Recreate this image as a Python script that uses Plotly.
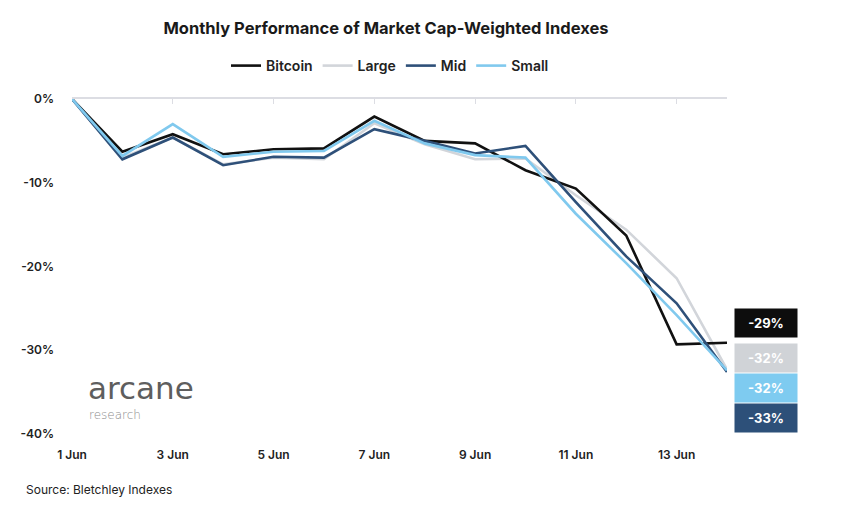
import plotly.graph_objects as go

dates = ["2022-06-%02d" % d for d in range(1, 15)]
bitcoin = [0, -6.3, -4.2, -6.6, -6.0, -5.9, -2.1, -5.0, -5.3, -8.5, -10.7, -16.3, -29.3, -29.1]
large   = [0, -7.0, -4.6, -7.8, -7.0, -7.2, -2.9, -5.4, -7.2, -7.1, -11.5, -15.6, -21.4, -32.3]
mid     = [0, -7.2, -4.6, -7.9, -6.9, -7.0, -3.6, -5.0, -6.5, -5.6, -12.3, -18.8, -24.4, -32.6]
small   = [0, -6.8, -3.0, -6.9, -6.3, -6.2, -2.6, -5.3, -6.7, -7.0, -13.7, -19.6, -25.8, -32.4]

tick_dates = ["2022-06-01", "2022-06-03", "2022-06-05", "2022-06-07", "2022-06-09", "2022-06-11", "2022-06-13"]
tick_labels = ["1 Jun", "3 Jun", "5 Jun", "7 Jun", "9 Jun", "11 Jun", "13 Jun"]
y_ticks = [0, -10, -20, -30, -40]
y_labels = ["0%", "-10%", "-20%", "-30%", "-40%"]
end_labels = ["-29%", "-32%", "-32%", "-33%"]

series = [
    ("Bitcoin", bitcoin, "#111111"),
    ("Large", large, "#d2d5da"),
    ("Mid", mid, "#2e5079"),
    ("Small", small, "#80c9ee"),
]

L, T, W, H = 72, 99, 655, 335


def px(x):
    return (x - L) / W


def py(y):
    return 1 - (y - T) / H


fig = go.Figure()
order = [1, 0, 2, 3]
for i in order:
    name, vals, col = series[i]
    fig.add_trace(go.Scatter(x=dates, y=vals, mode="lines", name=name,
                             line=dict(color=col, width=2.6), legendrank=i + 1))

fig.add_trace(go.Scatter(x=dates, y=bitcoin, xaxis="x2", mode="lines",
                         line=dict(width=0), showlegend=False, hoverinfo="skip",
                         opacity=0))

FONT = "Inter, Lato, sans-serif"
xr = ["2022-06-01", "2022-06-14"]
fig.update_layout(
    width=860, height=507,
    paper_bgcolor="white", plot_bgcolor="white",
    margin=dict(l=L, r=860 - L - W, t=T, b=507 - T - H),
    font=dict(family=FONT, color="#222222"),
    title=dict(text="Monthly Performance of Market Cap-Weighted Indexes",
               x=386 / 860, xanchor="center", y=1 - 28 / 507, yanchor="middle",
               font=dict(size=16.5, color="#1a1a1a", family=FONT, weight=700)),
    legend=dict(orientation="h", x=px(390), xanchor="center",
                y=py(66), yanchor="middle",
                font=dict(size=14, color="#222222", family=FONT, weight=600),
                itemwidth=30, tracegroupgap=0, traceorder="normal",
                bgcolor="rgba(0,0,0,0)"),
    xaxis=dict(type="date", range=xr, tickvals=tick_dates, ticktext=tick_labels,
               showgrid=False, zeroline=False, showline=False, ticks="",
               tickfont=dict(size=12, color="#222222", family=FONT, weight=600),
               ticklabelstandoff=12),
    xaxis2=dict(type="date", range=xr, overlaying="x", side="top", anchor="y",
                tickvals=tick_dates, showticklabels=False, ticks="inside",
                ticklen=5, tickcolor="#dcdde3", showline=True, linecolor="#dcdde3",
                linewidth=1.5, showgrid=False, zeroline=False),
    yaxis=dict(range=[-40, 0], tickvals=y_ticks, ticktext=y_labels,
               showgrid=False, zeroline=False, showline=False, ticks="",
               tickfont=dict(size=12, color="#222222", family=FONT, weight=600),
               ticklabelstandoff=17),
    showlegend=True,
)

box_cols = ["#0d0d0d", "#d0d3d7", "#7ecbf0", "#2d5079"]
box_y = [323, 357.5, 388, 418]
for txt, col, yy in zip(end_labels, box_cols, box_y):
    fig.add_annotation(x=px(766), xref="paper", y=py(yy), yref="paper",
                       text=txt, showarrow=False,
                       bgcolor=col, width=56, height=22, borderpad=3,
                       font=dict(color="white", size=13, family=FONT, weight=700),
                       xanchor="center", yanchor="middle")

fig.add_annotation(x=px(86), xref="paper", y=py(388), yref="paper",
                   text="arcane", showarrow=False, xanchor="left", yanchor="middle",
                   font=dict(size=31, color="#5e5e5e", family="DejaVu Sans, sans-serif", weight=400))
fig.add_annotation(x=px(87), xref="paper", y=py(414.5), yref="paper",
                   text="research", showarrow=False, xanchor="left", yanchor="middle",
                   font=dict(size=12, color="#8c8c8c", family="DejaVu Sans, sans-serif", weight=200))

fig.add_annotation(x=px(24), xref="paper", y=py(489), yref="paper",
                   text="Source: Bletchley Indexes", showarrow=False,
                   xanchor="left", yanchor="middle",
                   font=dict(size=12, color="#222222", family=FONT))

fig.write_html("out.html", post_script="document.body.style.margin='0';",
               config={"displayModeBar": False})
